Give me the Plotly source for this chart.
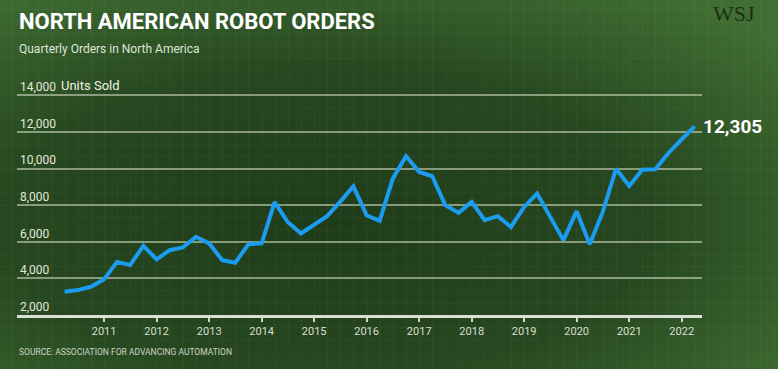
import base64
import plotly.graph_objects as go

# ---- data ----
quarter_starts = [
    "2010-04-01", "2010-07-01", "2010-10-01",
    "2011-01-01", "2011-04-01", "2011-07-01", "2011-10-01",
    "2012-01-01", "2012-04-01", "2012-07-01", "2012-10-01",
    "2013-01-01", "2013-04-01", "2013-07-01", "2013-10-01",
    "2014-01-01", "2014-04-01", "2014-07-01", "2014-10-01",
    "2015-01-01", "2015-04-01", "2015-07-01", "2015-10-01",
    "2016-01-01", "2016-04-01", "2016-07-01", "2016-10-01",
    "2017-01-01", "2017-04-01", "2017-07-01", "2017-10-01",
    "2018-01-01", "2018-04-01", "2018-07-01", "2018-10-01",
    "2019-01-01", "2019-04-01", "2019-07-01", "2019-10-01",
    "2020-01-01", "2020-04-01", "2020-07-01", "2020-10-01",
    "2021-01-01", "2021-04-01", "2021-07-01", "2021-10-01",
    "2022-01-01", "2022-04-01",
]
units_sold = [
    3270, 3360, 3540,
    3960, 4900, 4730, 5780,
    5040, 5540, 5690, 6270,
    5910, 5000, 4850, 5870,
    5910, 8170, 7080, 6450,
    6900, 7400, 8180, 9030,
    7450, 7140, 9450, 10670,
    9810, 9580, 8000, 7580,
    8180, 7180, 7400, 6810,
    7900, 8630, 7360, 6090,
    7670, 5870, 7630, 9990,
    9050, 9940, 9960, 10850,
    11600, 12305,
]
year_ticks = [f"{y}-01-01" for y in range(2011, 2023)]
year_labels = [str(y) for y in range(2011, 2023)]
y_ticks = [2000, 4000, 6000, 8000, 10000, 12000, 14000]
y_labels = ["2,000", "4,000", "6,000", "8,000", "10,000", "12,000", "14,000"]
y_unit = "Units Sold"

W, H = 778, 369
ML, MR, MT, MB = 17, 76, 77, 54
PW, PH = W - ML - MR, H - MT - MB

def px_x(px):
    return (px - ML) / PW

def px_y(py):
    return (H - MB - py) / PH

# ---- background: radial gradient + graph-paper texture ----
svg = f"""<svg xmlns='http://www.w3.org/2000/svg' width='{W}' height='{H}' viewBox='0 0 {W} {H}'>
<defs>
<radialGradient id='g' cx='0.42' cy='0.6' r='0.75'>
<stop offset='0' stop-color='#1f3c1a'/>
<stop offset='0.55' stop-color='#26471f'/>
<stop offset='1' stop-color='#3f6d32'/>
</radialGradient>
<pattern id='p' x='12.1' y='9.25' width='13.125' height='12.23' patternUnits='userSpaceOnUse'>
<path d='M 13.125 0 L 0 0 0 12.23' fill='none' stroke='rgba(255,255,255,0.07)' stroke-width='1'/>
</pattern>
</defs>
<rect width='{W}' height='{H}' fill='url(#g)'/>
<rect width='{W}' height='{H}' fill='url(#p)'/>
</svg>"""
bg_src = "data:image/svg+xml;base64," + base64.b64encode(svg.encode()).decode()

fig = go.Figure()
fig.add_trace(go.Scatter(
    x=quarter_starts, y=units_sold, mode="lines",
    line=dict(color="#1b9cef", width=4),
    hoverinfo="skip",
))

last_val = units_sold[-1]
fig.add_annotation(
    x=quarter_starts[-1], y=last_val, xref="x", yref="y",
    text=f"<b>{last_val:,}</b>", showarrow=False,
    xanchor="left", yanchor="middle", xshift=6,
    font=dict(family="Roboto", size=19, color="#ffffff"),
)
fig.add_annotation(
    x=px_x(59), y=y_ticks[-1], xref="paper", yref="y",
    text=y_unit, showarrow=False,
    xanchor="left", yanchor="bottom", yshift=0,
    font=dict(family="Roboto", size=13, color="#eef1ea"),
)

fig.add_annotation(
    x=px_x(17), y=px_y(21.5), xref="paper", yref="paper",
    text="<b>NORTH AMERICAN ROBOT ORDERS</b>", showarrow=False,
    xanchor="left", yanchor="middle",
    font=dict(family="Roboto", size=22, color="#ffffff"),
)
fig.add_annotation(
    x=px_x(17), y=px_y(49), xref="paper", yref="paper",
    text="Quarterly Orders in North America", showarrow=False,
    xanchor="left", yanchor="middle",
    font=dict(family="Roboto", size=12, color="#dfe5d8"),
)
fig.add_annotation(
    x=px_x(17), y=px_y(352), xref="paper", yref="paper",
    text="SOURCE: ASSOCIATION FOR ADVANCING AUTOMATION", showarrow=False,
    xanchor="left", yanchor="middle",
    font=dict(family="Roboto", size=8.5, color="#cdd5c5"),
)
fig.add_annotation(
    x=px_x(734), y=px_y(13), xref="paper", yref="paper",
    text="WSJ", showarrow=False,
    xanchor="center", yanchor="middle",
    font=dict(family="Liberation Serif", size=22, color="rgba(18,28,14,0.8)"),
)

fig.update_layout(
    width=W, height=H,
    margin=dict(l=ML, r=MR, t=MT, b=MB, pad=0),
    paper_bgcolor="#2c5224",
    plot_bgcolor="rgba(0,0,0,0)",
    showlegend=False,
    images=[dict(
        source=bg_src, xref="paper", yref="paper",
        x=px_x(0), y=px_y(0), sizex=W / PW, sizey=H / PH,
        xanchor="left", yanchor="top", sizing="stretch", layer="below",
    )],
    xaxis=dict(
        type="date",
        range=["2009-05-05", "2022-05-22"],
        tickvals=year_ticks, ticktext=year_labels,
        showgrid=False, zeroline=False,
        showline=True, linecolor="#dcdfd6", linewidth=3,
        ticks="outside", ticklen=4, tickwidth=1.5, tickcolor="#cfd5c8",
        tickfont=dict(family="Roboto", size=11, color="#d9dfd2"),
        fixedrange=True,
    ),
    yaxis=dict(
        range=[2000, 15000],
        tickvals=y_ticks, ticktext=y_labels,
        ticklabelposition="inside top",
        showgrid=True, gridcolor="rgba(215,225,200,0.55)", gridwidth=1.5,
        zeroline=False, showline=False, ticks="",
        tickfont=dict(family="Roboto", size=12, color="#e3e8dc"),
        fixedrange=True,
    ),
)

fig.write_html("out.html", config={"displayModeBar": False},
               post_script="document.body.style.margin='0';")
